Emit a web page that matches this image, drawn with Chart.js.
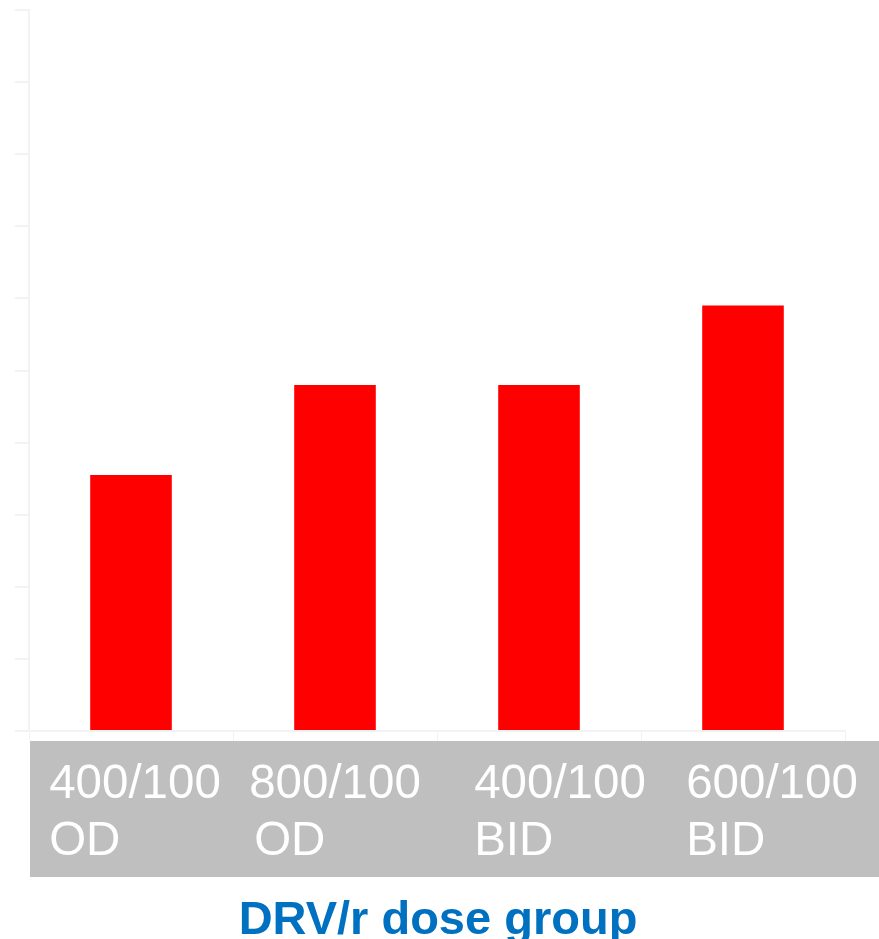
<!DOCTYPE html>
<html>
<head>
<meta charset="utf-8">
<script src="https://cdn.jsdelivr.net/npm/chart.js@4.4.1/dist/chart.umd.min.js"></script>
<style>
  html, body { margin: 0; padding: 0; background: #fff; }
  canvas { display: block; }
</style>
</head>
<body>
<canvas id="mycan" width="879" height="939"></canvas>
<script>
// dose groups, two text lines each
var doseLines = [['400/100', 'OD'], ['800/100', 'OD'], ['400/100', 'BID'], ['600/100', 'BID']];
var doseValues = [35.5, 48, 48, 59];
var yTicks = [0, 10, 20, 30, 40, 50, 60, 70, 80, 90, 100];
var axisTitle = 'DRV/r dose group';

var labels = doseLines.map(function(l){ return l.join(' '); });

// small horizontal nudge for each label block
var labelShift = [4, 0, 21, 29];
var secondShift = [0, 5, 0, 0];

var doseBand = {
  id: 'doseBand',
  beforeDraw: function(chart) {
    var ctx = chart.ctx;
    ctx.save();
    ctx.fillStyle = '#bfbfbf';
    ctx.fillRect(30, 741, chart.width - 30, 136);
    ctx.restore();
  },
  afterDraw: function(chart) {
    var ctx = chart.ctx;
    var xs = chart.scales.x;
    ctx.save();
    ctx.font = '47.5px "Liberation Sans", Arial, sans-serif';
    ctx.fillStyle = '#ffffff';
    ctx.textAlign = 'left';
    ctx.textBaseline = 'alphabetic';
    for (var i = 0; i < doseLines.length; i++) {
      var w = ctx.measureText(doseLines[i][0]).width;
      var x0 = xs.getPixelForValue(i) - w / 2 + labelShift[i];
      ctx.fillText(doseLines[i][0], x0, 798);
      ctx.fillText(doseLines[i][1], x0 + secondShift[i], 855);
    }
    ctx.font = 'bold 47px "Liberation Sans", Arial, sans-serif';
    ctx.fillStyle = '#0070c0';
    ctx.textAlign = 'center';
    ctx.fillText(axisTitle, 438, 934);
    ctx.restore();
  }
};

var ctx = document.getElementById('mycan');
var bargraph = new Chart(ctx, {
  type: 'bar',
  data: {
    labels: labels,
    datasets: [{
      data: doseValues,
      backgroundColor: '#ff0000',
      borderWidth: 0,
      barPercentage: 0.4,
      categoryPercentage: 1.0
    }]
  },
  options: {
    responsive: false,
    animation: false,
    layout: { padding: { top: 10, right: 34, left: 0, bottom: 0 } },
    plugins: {
      legend: { display: false },
      tooltip: { enabled: false }
    },
    scales: {
      x: {
        ticks: { display: false },
        grid: { drawOnChartArea: false, tickLength: 10, color: '#f3f3f3' },
        border: { color: '#f3f3f3', width: 2 },
        afterFit: function(scale) { scale.height = 208; }
      },
      y: {
        min: 0,
        max: 100,
        afterBuildTicks: function(scale) {
          scale.ticks = yTicks.map(function(v){ return { value: v }; });
        },
        ticks: { display: false },
        grid: { drawOnChartArea: false, tickLength: 14, color: '#f3f3f3', lineWidth: 2 },
        border: { color: '#f3f3f3', width: 2 },
        afterFit: function(scale) { scale.width = 29; }
      }
    }
  },
  plugins: [doseBand]
});
</script>
</body>
</html>
